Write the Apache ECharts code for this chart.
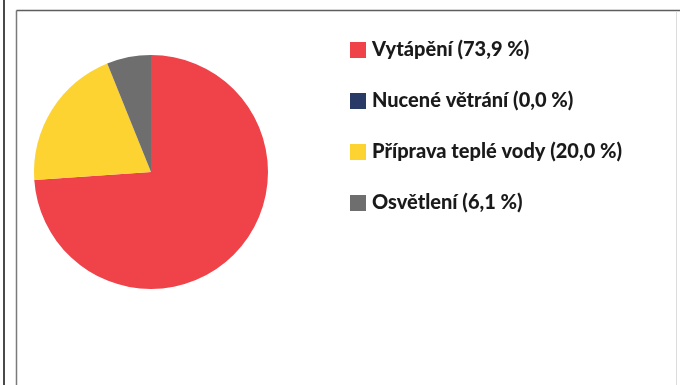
<!DOCTYPE html>
<html>
<head>
<meta charset="utf-8">
<script src="https://cdn.jsdelivr.net/npm/echarts@6/dist/echarts.min.js"></script>
<style>
  html, body { margin: 0; padding: 0; background: #ffffff; }
  #chart { width: 680px; height: 385px; }
</style>
</head>
<body>
<div id="chart"></div>
<script>
// Energy consumption shares by use (percent)
const categories = ['Vytápění', 'Nucené větrání', 'Příprava teplé vody', 'Osvětlení'];
const shares = [73.9, 0.0, 20.0, 6.1];
const colors = ['#EF4349', '#283A66', '#FDD332', '#6E6E6E'];

const fmt = v => v.toFixed(1).replace('.', ',');

const chart = echarts.init(document.getElementById('chart'), null, { renderer: 'canvas' });

chart.setOption({
  backgroundColor: '#ffffff',
  animation: false,
  color: colors,
  graphic: [
    // page frame lines
    { type: 'rect', shape: { x: 3, y: 0, width: 2, height: 385 }, style: { fill: '#4a4a4a' }, silent: true },
    { type: 'line', shape: { x1: 16.5, y1: 10.5, x2: 16.5, y2: 385 }, style: { stroke: '#7a7a7a', lineWidth: 1.5 }, silent: true },
    { type: 'line', shape: { x1: 16.5, y1: 10.5, x2: 680, y2: 10.5 }, style: { stroke: '#5e5e5e', lineWidth: 1.5 }, silent: true },
    { type: 'line', shape: { x1: 676.5, y1: 11, x2: 676.5, y2: 385 }, style: { stroke: '#dcdcdc', lineWidth: 1 }, silent: true }
  ],
  legend: {
    orient: 'vertical',
    left: 345,
    top: 35,
    itemWidth: 16,
    itemHeight: 16,
    itemGap: 31,
    icon: 'rect',
    selectedMode: false,
    textStyle: {
      fontFamily: 'Lato',
      fontWeight: 900,
      fontSize: 20,
      lineHeight: 16,
      color: '#1a1a1a',
      padding: [0, 0, 0, 1]
    },
    formatter: name => {
      const i = categories.indexOf(name);
      return name + ' (' + fmt(shares[i]) + ' %)';
    },
    data: categories
  },
  series: [{
    type: 'pie',
    center: [151, 172],
    radius: [0, 117],
    startAngle: 90,
    clockwise: true,
    label: { show: false },
    labelLine: { show: false },
    silent: true,
    minAngle: 0,
    stillShowZeroSum: true,
    itemStyle: { borderWidth: 0 },
    data: categories.map((c, i) => ({ name: c, value: shares[i] }))
  }]
});
</script>
</body>
</html>
